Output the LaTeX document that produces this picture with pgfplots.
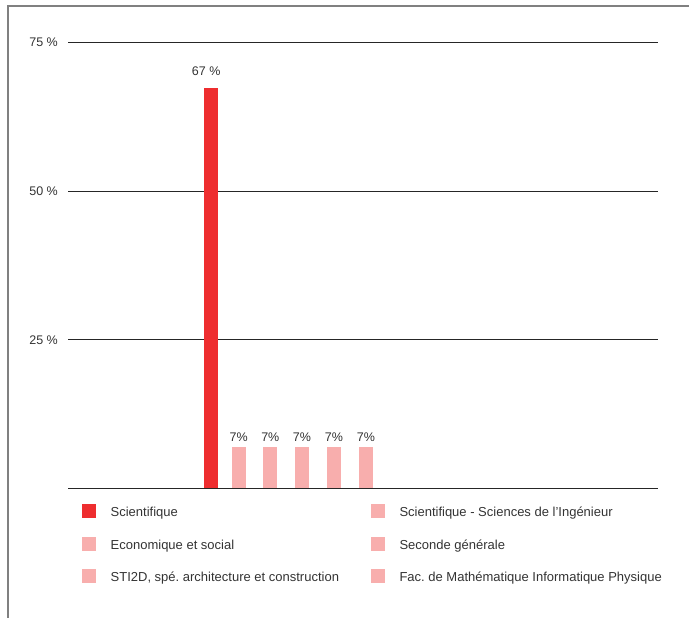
\documentclass[border=0pt]{standalone}
\usepackage{pgfplots}
\pgfplotsset{compat=1.18}
\usepackage{fontspec}
\setmainfont{Liberation Sans}
\frenchspacing
\definecolor{rouge}{HTML}{EE2D2F}
\definecolor{rose}{HTML}{F8AEAD}
\definecolor{texte}{HTML}{333333}
\definecolor{cadre}{HTML}{808080}

\begin{document}
\begin{tikzpicture}
\useasboundingbox (0,0) rectangle (689pt,618pt);
\draw[cadre, line width=2pt] (8.3pt,0) -- (8.3pt,612.3pt) -- (689pt,612.3pt);
\begin{axis}[
  at={(68pt,129.5pt)}, anchor=south west,
  scale only axis, width=590pt, height=446pt,
  xmin=68, xmax=658, ymin=0, ymax=75,
  axis line style={draw=none},
  xtick=\empty,
  ytick={0,25,50,75}, yticklabels={,25 \%,50 \%,75 \%},
  major tick length=0pt,
  ymajorgrids, grid style={black!85, line width=0.9pt},
  yticklabel style={font=\fontsize{12.5}{15}\selectfont, text=texte, inner sep=0pt, xshift=-10pt},
  /pgf/number format/assume math mode=true,
  ybar, bar width=14, bar shift=0pt,
  point meta=y,
  every node near coord/.append style={font=\fontsize{12.5}{15}\selectfont, text=texte, inner sep=0pt, anchor=south},
  legend columns=2,
  legend cell align=left,
  legend style={at={(0.0237,-0.0348)}, anchor=north west, draw=none, fill=none,
    inner sep=0pt, font=\fontsize{13}{15}\selectfont, text=texte, row sep=17pt,
    nodes={inner sep=0pt, text height=10pt, text depth=3pt},
    /tikz/every odd column/.append style={column sep=14.5pt},
    /tikz/every even column/.append style={column sep=32pt}},
  legend image code/.code={\fill[#1] (0pt,-5pt) rectangle (14pt,9pt);},
]
% Scientifique
\addplot[fill=rouge, draw=none,
  nodes near coords={\pgfmathprintnumber[fixed,precision=0]{\pgfplotspointmeta} \%},
  every node near coord/.append style={yshift=12pt, xshift=-5pt}]
  coordinates {(211.2,67.4)};
% Scientifique - Sciences de l'Ingenieur
\addplot[fill=rose, draw=none,
  nodes near coords={\pgfmathprintnumber[fixed,precision=0]{\pgfplotspointmeta}\%},
  every node near coord/.append style={yshift=5.5pt}]
  coordinates {(238.7,6.9)};
% Economique et social
\addplot[fill=rose, draw=none,
  nodes near coords={\pgfmathprintnumber[fixed,precision=0]{\pgfplotspointmeta}\%},
  every node near coord/.append style={yshift=5.5pt}]
  coordinates {(270.3,6.9)};
% Seconde generale
\addplot[fill=rose, draw=none,
  nodes near coords={\pgfmathprintnumber[fixed,precision=0]{\pgfplotspointmeta}\%},
  every node near coord/.append style={yshift=5.5pt}]
  coordinates {(302,6.9)};
% STI2D
\addplot[fill=rose, draw=none,
  nodes near coords={\pgfmathprintnumber[fixed,precision=0]{\pgfplotspointmeta}\%},
  every node near coord/.append style={yshift=5.5pt}]
  coordinates {(334,6.9)};
% Fac.
\addplot[fill=rose, draw=none,
  nodes near coords={\pgfmathprintnumber[fixed,precision=0]{\pgfplotspointmeta}\%},
  every node near coord/.append style={yshift=5.5pt}]
  coordinates {(366,6.9)};
\legend{Scientifique, Scientifique - Sciences de l’Ingénieur,
  Economique et social, Seconde générale,
  {STI2D, spé. architecture et construction}, Fac. de Mathématique Informatique Physique}
\end{axis}
\end{tikzpicture}
\end{document}
